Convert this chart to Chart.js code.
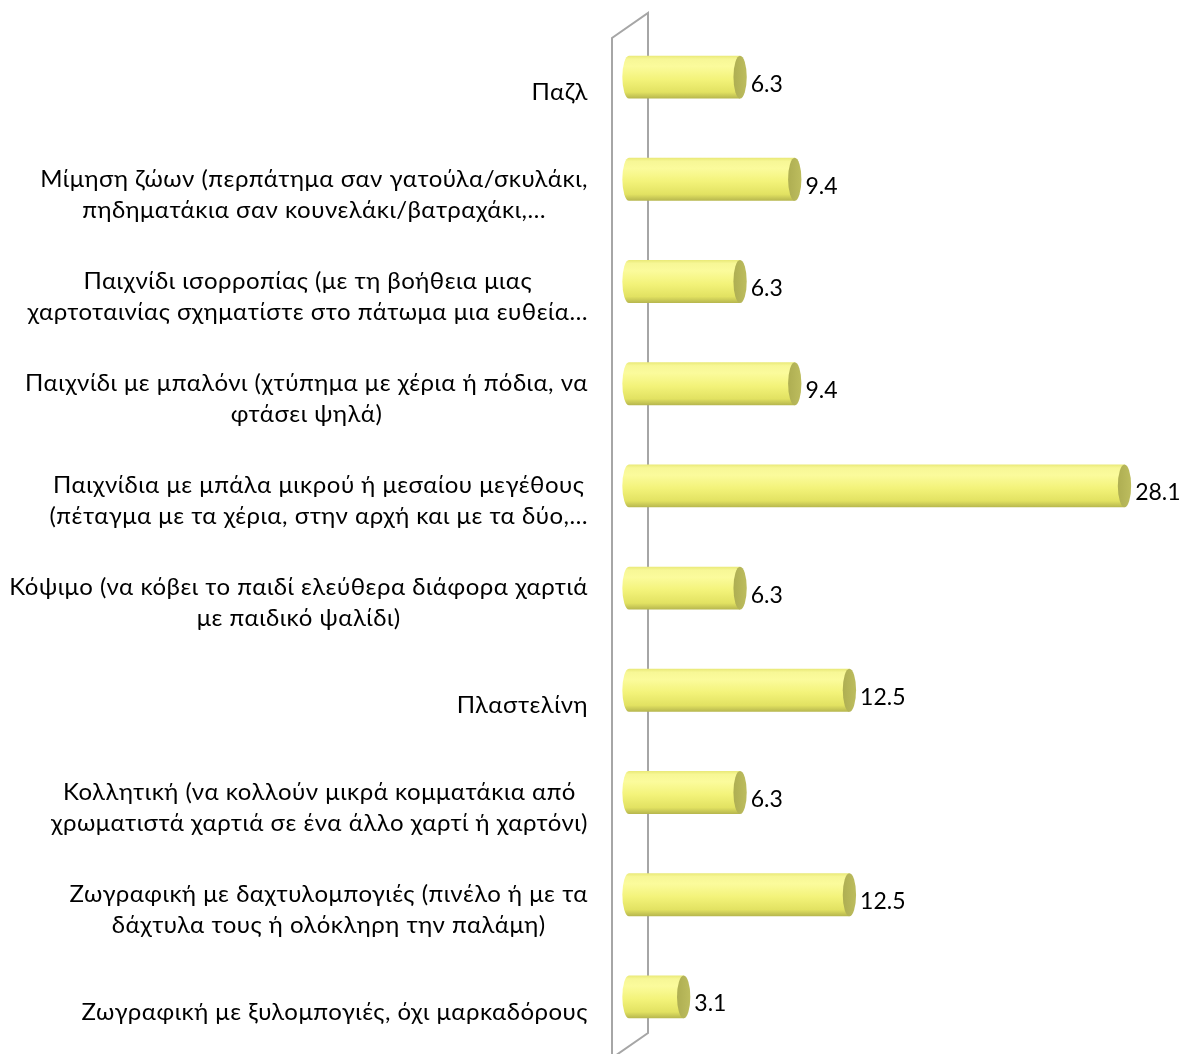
<!DOCTYPE html>
<html>
<head>
<meta charset="utf-8">
<script src="https://cdn.jsdelivr.net/npm/chart.js@4"></script>
<style>
  html, body { margin: 0; padding: 0; background: #ffffff; }
  #wrap { width: 1180px; height: 1054px; position: relative; }
</style>
</head>
<body>
<div id="wrap"><canvas id="c" width="1180" height="1054"></canvas></div>
<script>
// Activities (each entry is a list of label lines)
const categories = [
  ["Παζλ"],
  ["Μίμηση ζώων (περπάτημα σαν γατούλα/σκυλάκι,", "πηδηματάκια σαν κουνελάκι/βατραχάκι,…"],
  ["Παιχνίδι ισορροπίας (με τη βοήθεια μιας", "χαρτοταινίας σχηματίστε στο πάτωμα μια ευθεία…"],
  ["Παιχνίδι με μπαλόνι (χτύπημα με χέρια ή πόδια, να", "φτάσει ψηλά)"],
  ["Παιχνίδια με μπάλα μικρού ή μεσαίου μεγέθους", "(πέταγμα με τα χέρια, στην αρχή και με τα δύο,…"],
  ["Κόψιμο (να κόβει το παιδί ελεύθερα διάφορα χαρτιά", "με παιδικό ψαλίδι)"],
  ["Πλαστελίνη"],
  ["Κολλητική (να κολλούν μικρά κομματάκια από", "χρωματιστά χαρτιά σε ένα άλλο χαρτί ή χαρτόνι)"],
  ["Ζωγραφική με δαχτυλομπογιές (πινέλο ή με τα", "δάχτυλα τους ή ολόκληρη την παλάμη)"],
  ["Ζωγραφική με ξυλομπογιές, όχι μαρκαδόρους"]
];

// Percentages
const values = [6.3, 9.4, 6.3, 9.4, 28.1, 6.3, 12.5, 6.3, 12.5, 3.1];

// Value axis range
const axisMin = 0;
const axisMax = 30;

const FONT = 'Lato, "Noto Sans", "DejaVu Sans", sans-serif';
const LABEL_SIZE = 24;
const VALUE_SIZE = 23;
const LINE_H = 31;
const LABEL_RIGHT = 588;   // right edge of category label blocks
const LABEL_SHIFT = 15;    // labels sit on the front plane, lower than the bars
const DEPTH_X = 36, DEPTH_Y = -25;

// Side wall of the 3D plot (a thin slanted frame)
const wallPlugin = {
  id: 'wall',
  beforeDatasetsDraw(chart) {
    const { ctx, chartArea } = chart;
    const fx = chartArea.left - 17;          // front edge
    const bx = fx + DEPTH_X;                 // back edge
    const top = chartArea.top + 12;
    const bot = chartArea.bottom + 10;
    ctx.save();
    ctx.strokeStyle = '#a6a6a6';
    ctx.lineWidth = 2;
    ctx.beginPath();
    ctx.moveTo(fx, bot);
    ctx.lineTo(fx, top);
    ctx.lineTo(bx, top + DEPTH_Y);
    ctx.lineTo(bx, bot + DEPTH_Y);
    ctx.lineTo(fx, bot);
    ctx.stroke();
    ctx.restore();
  }
};

// Cylinder bars, value labels and category labels
const cylinderPlugin = {
  id: 'cylinders',
  afterDatasetsDraw(chart) {
    const { ctx } = chart;
    const meta = chart.getDatasetMeta(0);
    const yScale = chart.scales.y;
    ctx.save();
    meta.data.forEach((bar, i) => {
      const p = bar.getProps(['x', 'y', 'base', 'height'], true);
      const h = p.height;
      const top = p.y - h / 2, bottom = p.y + h / 2;
      const rx = h * 0.155;
      const x0 = p.base, x1 = p.x;

      // body with left rounded end
      const g = ctx.createLinearGradient(0, top, 0, bottom);
      g.addColorStop(0, '#e9e977');
      g.addColorStop(0.08, '#f7f796');
      g.addColorStop(0.25, '#fbfb9c');
      g.addColorStop(0.55, '#f3f37a');
      g.addColorStop(0.85, '#e2e262');
      g.addColorStop(1, '#b6b64e');
      ctx.fillStyle = g;
      ctx.beginPath();
      ctx.moveTo(x1, top);
      ctx.lineTo(x0, top);
      ctx.ellipse(x0, p.y, rx, h / 2, 0, -Math.PI / 2, Math.PI / 2, true);
      ctx.lineTo(x1, bottom);
      ctx.closePath();
      ctx.fill();

      // end face
      const gc = ctx.createLinearGradient(x1 - rx, 0, x1 + rx, 0);
      gc.addColorStop(0, '#aeae52');
      gc.addColorStop(1, '#bdbd5e');
      ctx.fillStyle = gc;
      ctx.beginPath();
      ctx.ellipse(x1, p.y, rx, h / 2, 0, 0, Math.PI * 2);
      ctx.fill();

      // value label
      ctx.fillStyle = '#000000';
      ctx.font = `${VALUE_SIZE}px ${FONT}`;
      ctx.textAlign = 'left';
      ctx.textBaseline = 'middle';
      ctx.fillText(String(values[i]), x1 + rx + 4, p.y + 7);
    });

    // category labels: block right-aligned, lines centred within the block
    ctx.font = `${LABEL_SIZE}px ${FONT}`;
    if ('letterSpacing' in ctx) ctx.letterSpacing = '0.5px';
    ctx.fillStyle = '#000000';
    ctx.textAlign = 'center';
    ctx.textBaseline = 'middle';
    categories.forEach((lines, i) => {
      const cy = yScale.getPixelForValue(i) + LABEL_SHIFT;
      const w = Math.max(...lines.map(l => ctx.measureText(l).width));
      const cx = LABEL_RIGHT - w / 2;
      const y0 = cy - (lines.length - 1) * LINE_H / 2;
      lines.forEach((l, k) => ctx.fillText(l, cx, y0 + k * LINE_H));
    });
    ctx.restore();
  }
};

new Chart(document.getElementById('c'), {
  type: 'bar',
  data: {
    labels: categories.map(l => l.join(' ')),
    datasets: [{
      data: values,
      backgroundColor: 'rgba(0,0,0,0)',
      borderWidth: 0,
      categoryPercentage: 1,
      barPercentage: 0.42
    }]
  },
  options: {
    indexAxis: 'y',
    responsive: false,
    animation: false,
    layout: { padding: { left: 629, right: 22, top: 26, bottom: 6 } },
    plugins: { legend: { display: false }, tooltip: { enabled: false } },
    scales: {
      x: { display: false, min: axisMin, max: axisMax },
      y: { display: false }
    }
  },
  plugins: [wallPlugin, cylinderPlugin]
});
</script>
</body>
</html>
